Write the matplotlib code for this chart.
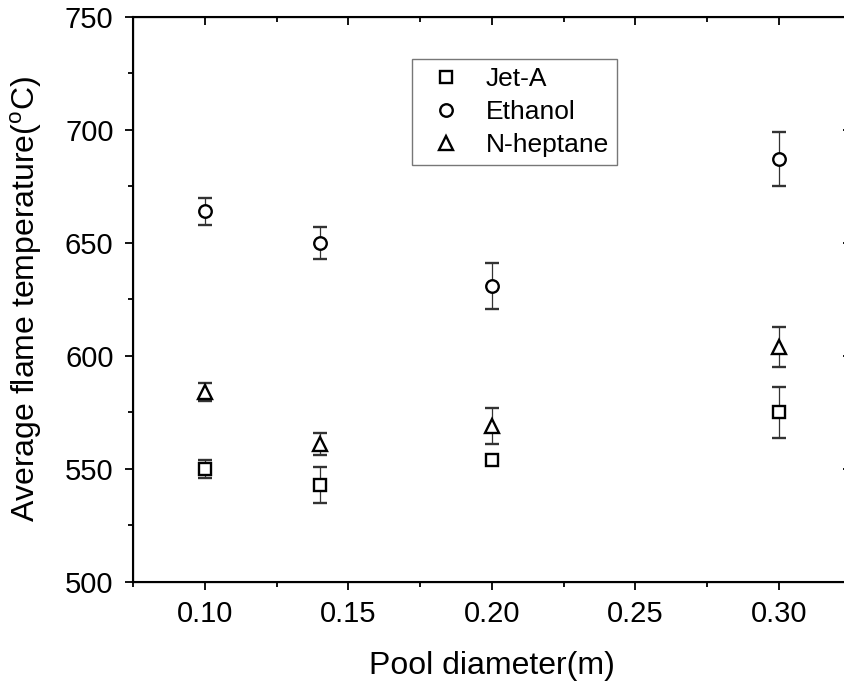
import matplotlib
matplotlib.use("Agg")
import matplotlib.pyplot as plt
from matplotlib.ticker import MultipleLocator

plt.rcParams["font.family"] = ["Liberation Sans", "DejaVu Sans"]
plt.rcParams["mathtext.fontset"] = "custom"
plt.rcParams["mathtext.rm"] = "Liberation Sans"

# pool diameter (m)
diameter = [0.10, 0.14, 0.20, 0.30]

# average flame temperature (deg C) and error bar half-widths
jet_a = [550, 543, 554, 575]
jet_a_err = [4, 8, 2, 11.5]
ethanol = [664, 650, 631, 687]
ethanol_err = [6, 7, 10, 12]
heptane = [584, 561, 569, 604]
heptane_err = [4, 5, 8, 9]

series = [
    ("Jet-A", jet_a, jet_a_err, "s", 8),
    ("Ethanol", ethanol, ethanol_err, "o", 9),
    ("N-heptane", heptane, heptane_err, "^", 10),
]

fig = plt.figure(figsize=(8.44, 6.93), dpi=100)
# right spine sits just past the image edge, as in the reference crop
ax = fig.add_axes([133 / 844, 1 - 582 / 693, 717.5 / 844, 565 / 693])

handles, labels = [], []
for label, y, err, marker, ms in series:
    c = ax.errorbar(diameter, y, yerr=err, fmt=marker, ms=ms, mfc="white", mec="black",
                    mew=1.7, ecolor="#333333", elinewidth=0.9, capsize=5, capthick=0.9)
    handles.append(c[0])
    labels.append(label)

ax.set_xlim(0.075, 0.325)
ax.set_ylim(500, 750)
ax.xaxis.set_major_locator(MultipleLocator(0.05))
ax.xaxis.set_minor_locator(MultipleLocator(0.025))
ax.yaxis.set_major_locator(MultipleLocator(50))
ax.yaxis.set_minor_locator(MultipleLocator(25))
ax.xaxis.set_major_formatter(lambda v, p: f"{v:.2f}")

for s in ax.spines.values():
    s.set_linewidth(1.5)
ax.tick_params(which="both", direction="out", width=1.3, labelsize=21)
ax.tick_params(which="major", length=6, pad=7)
ax.tick_params(which="minor", length=3.5)
ax.tick_params(axis="y", pad=8)

# mirrored ticks on top and right, pointing inward
ax2 = ax.twiny()
ax2.set_xlim(ax.get_xlim())
ax2.xaxis.set_major_locator(MultipleLocator(0.05))
ax2.xaxis.set_minor_locator(MultipleLocator(0.025))
ax2.tick_params(which="both", direction="in", width=1.3, labeltop=False)
ax2.tick_params(which="major", length=6)
ax2.tick_params(which="minor", length=3.5)
ax3 = ax.twinx()
ax3.set_ylim(ax.get_ylim())
ax3.yaxis.set_major_locator(MultipleLocator(50))
ax3.yaxis.set_minor_locator(MultipleLocator(25))
ax3.tick_params(which="both", direction="in", width=1.3, labelright=False)
ax3.tick_params(which="major", length=6)
ax3.tick_params(which="minor", length=3.5)

ax.set_xlabel("Pool diameter(m)", fontsize=23)
ax.set_ylabel(r"Average flame temperature($^{\rm o}$C)", fontsize=23)
ax.xaxis.set_label_coords(0.5, -0.122)
ax.yaxis.set_label_coords(-0.124, 0.5)

leg = ax.legend(handles, labels, loc="upper left", bbox_to_anchor=(0.3889, 0.9257),
                borderaxespad=0, fontsize=19, frameon=True, fancybox=False,
                edgecolor="#555555", handlelength=2.0, handletextpad=0.5,
                labelspacing=0.35, borderpad=0.3)
leg.get_frame().set_linewidth(1.0)

fig.savefig("out.png", dpi=100)
